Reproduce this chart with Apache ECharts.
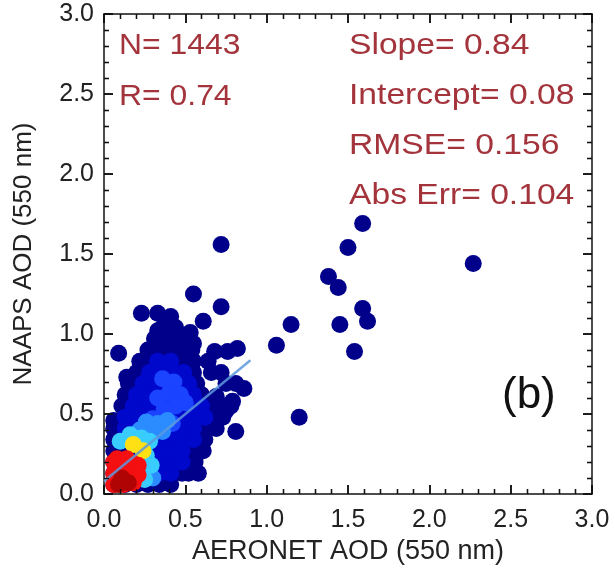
<!DOCTYPE html>
<html>
<head>
<meta charset="utf-8">
<script src="https://cdn.jsdelivr.net/npm/echarts@6/dist/echarts.min.js"></script>
<style>
  html, body { margin: 0; padding: 0; background: #fff; }
  #a { width: 615px; height: 571px; }
  #ticks { position: absolute; left: 0; top: 0; width: 615px; height: 520px; pointer-events: none; }
</style>
</head>
<body>
<div id="a"></div>
<div id="ticks"></div>
<script>
// tick labels
const xTicks = ['0.0', '0.5', '1.0', '1.5', '2.0', '2.5', '3.0']
const yTicks = ['0.0', '0.5', '1.0', '1.5', '2.0', '2.5', '3.0']

// stats printed in the panel
const statsLeft = ['N= 1443', 'R= 0.74']
const statsRight = ['Slope= 0.84', 'Intercept= 0.08', 'RMSE= 0.156', 'Abs Err= 0.104']
const fitSlope = 0.84
const fitIntercept = 0.08
const fitXRange = [0.0, 0.9]

// points, grouped by density colour (low -> high)
const navyPts = [
  [0.72,1.56],[1.59,1.69],[1.50,1.54],[2.27,1.44],[1.38,1.36],[1.44,1.29],[1.59,1.16],[1.62,1.08],
  [1.45,1.06],[1.15,1.06],[1.06,0.93],[1.54,0.89],[1.20,0.48],
  [0.55,1.25],[0.72,1.17],[0.61,1.08],[0.23,1.13],[0.33,1.13],[0.41,1.11],[0.09,0.88],[0.14,0.73],
  [0.68,0.89],[0.76,0.89],[0.82,0.91],[0.81,0.39],[0.86,0.66],[0.79,0.58],[0.69,0.61],[0.73,0.48],
  [0.58,0.13],[0.33,1.02],[0.53,1.01],[0.55,0.94],
  [0.06,0.06],[0.13,0.06],[0.20,0.06],[0.27,0.06],[0.34,0.06],[0.41,0.06],
  [0.06,0.13],[0.13,0.13],[0.20,0.13],[0.27,0.13],[0.34,0.13],[0.41,0.13],[0.48,0.13],[0.52,0.13],
  [0.06,0.20],[0.13,0.20],[0.20,0.20],[0.27,0.20],[0.34,0.20],[0.41,0.20],[0.48,0.20],[0.56,0.20],
  [0.06,0.27],[0.13,0.27],[0.20,0.27],[0.27,0.27],[0.34,0.27],[0.41,0.27],[0.48,0.27],[0.55,0.27],[0.61,0.27],
  [0.06,0.34],[0.13,0.34],[0.20,0.34],[0.27,0.34],[0.34,0.34],[0.41,0.34],[0.48,0.34],[0.55,0.34],[0.62,0.34],
  [0.06,0.41],[0.13,0.41],[0.20,0.41],[0.27,0.41],[0.34,0.41],[0.41,0.41],[0.48,0.41],[0.55,0.41],[0.62,0.41],[0.69,0.41],
  [0.06,0.46],[0.13,0.48],[0.20,0.48],[0.27,0.48],[0.34,0.48],[0.41,0.48],[0.48,0.48],[0.55,0.48],[0.62,0.48],[0.70,0.48],[0.75,0.52],
  [0.11,0.55],[0.18,0.55],[0.25,0.55],[0.32,0.55],[0.39,0.55],[0.46,0.55],[0.53,0.55],[0.60,0.55],[0.67,0.55],[0.74,0.55],[0.78,0.55],
  [0.13,0.62],[0.20,0.62],[0.27,0.62],[0.34,0.62],[0.41,0.62],[0.48,0.62],[0.55,0.62],[0.60,0.62],
  [0.15,0.69],[0.22,0.69],[0.29,0.69],[0.36,0.69],[0.43,0.69],[0.50,0.69],[0.57,0.69],[0.75,0.69],[0.81,0.69],
  [0.20,0.76],[0.27,0.76],[0.34,0.76],[0.41,0.76],[0.48,0.76],[0.55,0.76],[0.66,0.76],[0.72,0.76],
  [0.22,0.83],[0.29,0.83],[0.36,0.83],[0.43,0.83],[0.50,0.83],[0.55,0.83],[0.64,0.83],
  [0.27,0.90],[0.34,0.90],[0.41,0.90],[0.48,0.90],[0.54,0.90],
  [0.31,0.97],[0.38,0.97],[0.45,0.97],[0.52,0.97],
  [0.36,1.04],[0.44,1.04]
]
const bluePts = [
  [0.20,0.13],[0.27,0.13],[0.34,0.13],[0.41,0.13],
  [0.20,0.20],[0.27,0.20],[0.34,0.20],[0.41,0.20],[0.48,0.20],
  [0.27,0.27],[0.34,0.27],[0.41,0.27],[0.48,0.27],
  [0.13,0.34],[0.27,0.34],[0.34,0.34],[0.41,0.34],[0.48,0.34],[0.55,0.34],
  [0.13,0.41],[0.20,0.41],[0.34,0.41],[0.41,0.41],[0.48,0.41],[0.55,0.41],
  [0.13,0.48],[0.20,0.48],[0.27,0.48],[0.34,0.48],[0.41,0.48],[0.48,0.48],[0.55,0.48],[0.62,0.48],
  [0.18,0.55],[0.25,0.55],[0.32,0.55],[0.39,0.55],[0.46,0.55],[0.53,0.55],[0.60,0.55],
  [0.20,0.62],[0.27,0.62],[0.34,0.62],[0.41,0.62],[0.48,0.62],[0.55,0.62],
  [0.24,0.69],[0.31,0.69],[0.38,0.69],[0.45,0.69],[0.52,0.69],
  [0.28,0.76],[0.35,0.76],[0.42,0.76],[0.49,0.76],
  [0.33,0.83],[0.41,0.83]
]
const royalPts = [
  [0.36,0.72],[0.43,0.70],[0.40,0.63],[0.47,0.62],[0.33,0.60],[0.44,0.55],[0.50,0.57],[0.37,0.53],
  [0.30,0.47],[0.42,0.44]
]
const skyPts = [
  [0.26,0.45],[0.33,0.44],[0.39,0.46],[0.30,0.38],[0.36,0.39],[0.22,0.40],[0.28,0.16],[0.30,0.10]
]
const cyanPts = [
  [0.10,0.33],[0.16,0.37],[0.23,0.35],[0.28,0.33],[0.26,0.24],[0.29,0.18],[0.25,0.09],[0.20,0.32]
]
const yellowPts = [
  [0.18,0.31],[0.24,0.27]
]
const redPts = [
  [0.06,0.06],[0.06,0.13],[0.06,0.20],[0.12,0.06],[0.12,0.13],[0.12,0.20],
  [0.18,0.07],[0.18,0.14],[0.18,0.19],[0.21,0.12],[0.21,0.18],[0.08,0.22],[0.14,0.22]
]
const darkRedPts = [
  [0.11,0.10],[0.15,0.07],[0.09,0.06]
]

const layers = [
  { data: navyPts, color: '#00008b' },
  { data: bluePts, color: '#0008cc' },
  { data: royalPts, color: '#1a44ff' },
  { data: skyPts, color: '#2a8cff' },
  { data: cyanPts, color: '#38ccff' },
  { data: yellowPts, color: '#ffe014' },
  { data: redPts, color: '#f41010' },
  { data: darkRedPts, color: '#b00404' }
]

const fitLine = fitXRange.map(x => [x, fitSlope * x + fitIntercept])

const font = '"Liberation Sans", Arial, Helvetica, sans-serif'
const statColor = '#a4343c'

// one axis of the box; labels only on bottom / left
function makeAxis(pos, isX, labels, showLine) {
  const main = pos === 'bottom' || pos === 'left'
  return {
    type: 'value', position: pos, min: 0, max: 3, interval: 0.5,
    axisLine: { show: showLine, onZero: false, lineStyle: { color: '#111', width: 1.5 } },
    axisTick: { show: true, inside: true, length: 9, lineStyle: { color: '#111', width: 1.5 } },
    minorTick: { show: true, splitNumber: 5, length: 5, lineStyle: { color: '#111', width: 1.3 } },
    splitLine: { show: false },
    axisLabel: {
      show: main && showLine, fontSize: 25, fontFamily: font, color: '#222',
      margin: isX ? 14 : 10,
      formatter: v => labels[Math.round(v / 0.5)]
    }
  }
}

const chart = echarts.init(document.getElementById('a'))

const x0 = makeAxis('bottom', true, xTicks, true)
x0.name = 'AERONET AOD (550 nm)'
x0.nameLocation = 'middle'
x0.nameGap = 42
x0.nameTextStyle = { fontSize: 27, fontFamily: font, color: '#222' }

const y0 = makeAxis('left', false, yTicks, true)
y0.name = 'NAAPS AOD (550 nm)'
y0.nameLocation = 'middle'
y0.nameGap = 67
y0.nameTextStyle = { fontSize: 26, fontFamily: font, color: '#222' }

const series = layers.map(l => ({
  type: 'scatter', data: l.data, symbolSize: 17, z: 2,
  itemStyle: { color: l.color, opacity: 1 }
}))
series.push({
  type: 'line', data: fitLine, symbol: 'none', z: 3,
  lineStyle: { color: '#5d98dc', width: 2.5, opacity: 0.85 }
})

const graphics = []
statsLeft.forEach((t, i) => graphics.push({
  type: 'text', x: 119, y: 46 + i * 51,
  style: { text: t, fontSize: 29, fontFamily: font, fill: statColor, verticalAlign: 'middle' },
  scaleX: 1.1
}))
statsRight.forEach((t, i) => graphics.push({
  type: 'text', x: 349, y: 46 + i * 50,
  style: { text: t, fontSize: 29, fontFamily: font, fill: statColor, verticalAlign: 'middle' },
  scaleX: 1.16
}))
graphics.push({
  type: 'text', x: 502, y: 396,
  style: { text: '(b)', fontSize: 44, fontFamily: font, fill: '#111', verticalAlign: 'middle' }
})

chart.setOption({
  animation: false,
  backgroundColor: '#fff',
  grid: { left: 104, right: 23, top: 14, bottom: 77 },
  xAxis: [x0, makeAxis('top', true, xTicks, true)],
  yAxis: [y0, makeAxis('right', false, yTicks, true)],
  series,
  graphic: graphics
})

// tick marks again on a transparent overlay, same plot box
const tickChart = echarts.init(document.getElementById('ticks'))
tickChart.setOption({
  animation: false,
  backgroundColor: 'transparent',
  grid: { left: 104, right: 23, top: 14, bottom: 26 },
  xAxis: [makeAxis('bottom', true, xTicks, false), makeAxis('top', true, xTicks, false)],
  yAxis: [makeAxis('left', false, yTicks, false), makeAxis('right', false, yTicks, false)],
  series: []
})
</script>
</body>
</html>
